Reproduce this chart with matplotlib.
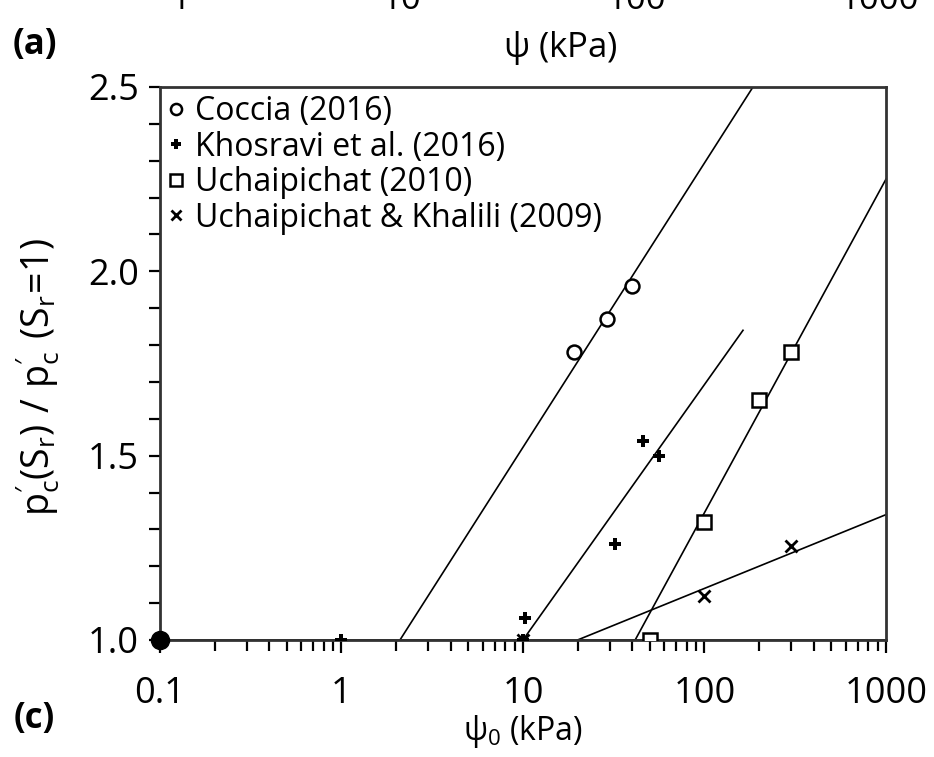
import matplotlib
matplotlib.use("Agg")
import matplotlib.pyplot as plt
from matplotlib.ticker import FixedLocator, LogLocator, NullFormatter

plt.rcParams['font.family'] = ['Open Sans', 'DejaVu Sans']
plt.rcParams['mathtext.fontset'] = 'custom'
plt.rcParams['mathtext.rm'] = 'Open Sans'
plt.rcParams['mathtext.it'] = 'Open Sans'

# data
coccia_x = [19, 29, 40]
coccia_y = [1.78, 1.87, 1.96]
khos_x = [1, 10, 10.3, 32, 46, 56]
khos_y = [1.0, 1.0, 1.06, 1.26, 1.54, 1.50]
uch_x = [50, 100, 200, 300]
uch_y = [1.0, 1.32, 1.65, 1.78]
uk_x = [10, 100, 300]
uk_y = [1.0, 1.12, 1.255]
ref_x = [0.1]
ref_y = [1.0]

# fitted lines (end points)
fit_coccia_x = [2.1, 185]
fit_coccia_y = [1.0, 2.5]
fit_khos_x = [10, 163]
fit_khos_y = [1.0, 1.84]
fit_uch_x = [41.5, 1000]
fit_uch_y = [1.0, 2.25]
fit_uk_x = [20, 1000]
fit_uk_y = [1.0, 1.34]
base_x = [0.1, 1000]
base_y = [1.0, 1.0]

fig = plt.figure(figsize=(9.34, 7.57), dpi=100)
ax = fig.add_axes([0.1713, 0.1546, 0.9486 - 0.1713, 0.8851 - 0.1546])

lw = 1.2
for fx, fy in [(fit_coccia_x, fit_coccia_y), (fit_khos_x, fit_khos_y),
               (fit_uch_x, fit_uch_y), (fit_uk_x, fit_uk_y), (base_x, base_y)]:
    ax.plot(fx, fy, color='black', lw=lw, zorder=2)

ax.plot(coccia_x, coccia_y, 'o', ms=10, mfc='white', mec='black', mew=1.8,
        label='Coccia (2016)', zorder=3)
ax.plot(khos_x, khos_y, 'P', ms=9, color='black', mew=0,
        label='Khosravi et al. (2016)', zorder=3)
ax.plot(uch_x, uch_y, 's', ms=10, mfc='white', mec='black', mew=1.8,
        label='Uchaipichat (2010)', zorder=3)
ax.plot(uk_x, uk_y, 'x', ms=9, color='black', mew=2,
        label='Uchaipichat & Khalili (2009)', zorder=3)
ax.plot(ref_x, ref_y, 'o', ms=13, color='black', zorder=4, clip_on=False)

ax.set_xscale('log')
ax.set_xlim(0.1, 1000)
ax.set_ylim(1.0, 2.5)
ax.xaxis.set_major_locator(FixedLocator([0.1, 1, 10, 100, 1000]))
ax.set_xticklabels(['0.1', '1', '10', '100', '1000'])
ax.xaxis.set_minor_locator(LogLocator(base=10, subs=range(2, 10)))
ax.xaxis.set_minor_formatter(NullFormatter())
ax.set_yticks([1.0, 1.5, 2.0, 2.5])
ax.set_yticklabels(['1.0', '1.5', '2.0', '2.5'])
ax.set_yticks([1.1, 1.2, 1.3, 1.4, 1.6, 1.7, 1.8, 1.9, 2.1, 2.2, 2.3, 2.4], minor=True)

ax.tick_params(axis='both', which='both', direction='out', color='black',
               labelsize=26, width=1.6)
ax.tick_params(axis='x', which='major', length=9, pad=17)
ax.tick_params(axis='x', which='minor', length=8)
ax.tick_params(axis='y', which='major', length=8, pad=7)
ax.tick_params(axis='y', which='minor', length=8)
for s in ax.spines.values():
    s.set_linewidth(2)
    s.set_color('#333333')

ax.set_xlabel(r'$\mathregular{\psi_0}$ (kPa)', fontsize=23, labelpad=1)
ax.set_ylabel(r"$\mathregular{p^{\prime}_{c}(S_r)\ /\ p^{\prime}_{c}\ (S_r\!=\!1)}$",
              fontsize=27)
ax.yaxis.set_label_coords(-0.135, 0.475)

ax.legend(loc='upper left', frameon=False, fontsize=23, handlelength=0.5,
          handletextpad=0.35, labelspacing=0.08, borderaxespad=0.1,
          borderpad=0.15, markerscale=0.8)

# remnants of the panel above
fig.text(0.013, 0.94, '(a)', fontsize=25, fontweight='bold', ha='left', va='center')
fig.text(0.6, 0.936, r'$\mathregular{\psi}$ (kPa)', fontsize=25, ha='center', va='center')
for lab, xp in [('1', 181), ('10', 402), ('100', 637), ('1000', 880)]:
    fig.text(xp / 934, 1.0, lab, fontsize=25, ha='center', va='center')
fig.text(0.015, 0.05, '(c)', fontsize=25, fontweight='bold', ha='left', va='center')

fig.savefig('out.png', dpi=100)
